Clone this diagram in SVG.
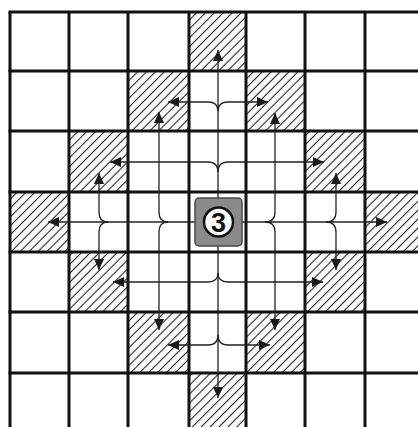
<svg xmlns="http://www.w3.org/2000/svg" width="418" height="427" viewBox="0 0 418 427">
<defs>
<pattern id="hatch" patternUnits="userSpaceOnUse" width="6.3" height="6.3" patternTransform="rotate(45)">
<line x1="3.15" y1="-1" x2="3.15" y2="8" stroke="#222" stroke-width="1.1"/>
</pattern>
<marker id="ah" markerUnits="userSpaceOnUse" markerWidth="13" markerHeight="12" refX="11" refY="5.5" orient="auto">
<path d="M0,0.5 L11,5.5 L0,10.5 Z" fill="#1a1a1a"/>
</marker>
</defs>
<style>
.hc{fill:url(#hatch);stroke:none}
.grid line{stroke:#111;stroke-width:3}
.cn path{fill:none;stroke:#222;stroke-width:1.3;marker-end:url(#ah)}
</style>
<rect x="0" y="0" width="418" height="427" fill="#fff"/>
<g id="hatched-cells">
<g id="cell-3-0"><rect class="hc" x="189" y="12" width="57" height="59"/></g>
<g id="cell-2-1"><rect class="hc" x="128" y="71" width="61" height="60"/></g>
<g id="cell-4-1"><rect class="hc" x="246" y="71" width="59" height="60"/></g>
<g id="cell-1-2"><rect class="hc" x="69" y="131" width="59" height="61"/></g>
<g id="cell-5-2"><rect class="hc" x="305" y="131" width="60" height="61"/></g>
<g id="cell-0-3"><rect class="hc" x="10" y="192" width="59" height="60"/></g>
<g id="cell-6-3"><rect class="hc" x="365" y="192" width="53" height="60"/></g>
<g id="cell-1-4"><rect class="hc" x="69" y="252" width="59" height="60"/></g>
<g id="cell-5-4"><rect class="hc" x="305" y="252" width="60" height="60"/></g>
<g id="cell-2-5"><rect class="hc" x="128" y="312" width="61" height="61"/></g>
<g id="cell-4-5"><rect class="hc" x="246" y="312" width="59" height="61"/></g>
<g id="cell-3-6"><rect class="hc" x="189" y="373" width="57" height="54"/></g>
</g>
<g id="grid" class="grid">
<line x1="10" y1="12" x2="10" y2="427"/>
<line x1="69" y1="12" x2="69" y2="427"/>
<line x1="128" y1="12" x2="128" y2="427"/>
<line x1="189" y1="12" x2="189" y2="427"/>
<line x1="246" y1="12" x2="246" y2="427"/>
<line x1="305" y1="12" x2="305" y2="427"/>
<line x1="365" y1="12" x2="365" y2="427"/>
<line x1="8.5" y1="12" x2="418" y2="12"/>
<line x1="8.5" y1="71" x2="418" y2="71"/>
<line x1="8.5" y1="131" x2="418" y2="131"/>
<line x1="8.5" y1="192" x2="418" y2="192"/>
<line x1="8.5" y1="252" x2="418" y2="252"/>
<line x1="8.5" y1="312" x2="418" y2="312"/>
<line x1="8.5" y1="373" x2="418" y2="373"/>
</g>
<g id="connectors" class="cn">
<path d="M218 222 V50"/>
<path d="M218 222 V398"/>
<path d="M218 222 H48"/>
<path d="M218 222 H387"/>
<path d="M218 111 Q218 102 208 102 H168"/>
<path d="M218 111 Q218 102 228 102 H268"/>
<path d="M218 172 Q218 162 208 162 H110"/>
<path d="M218 172 Q218 162 228 162 H324"/>
<path d="M218 273 Q218 282 208 282 H113"/>
<path d="M218 273 Q218 282 228 282 H323"/>
<path d="M218 335 Q218 345 208 345 H168"/>
<path d="M218 335 Q218 345 228 345 H270"/>
<path d="M168 222 Q159 222 159 212 V112"/>
<path d="M168 222 Q159 222 159 232 V330"/>
<path d="M108 222 Q99 222 99 212 V173"/>
<path d="M108 222 Q99 222 99 232 V270"/>
<path d="M265 222 Q275 222 275 212 V113"/>
<path d="M265 222 Q275 222 275 232 V330"/>
<path d="M326 222 Q336 222 336 212 V173"/>
<path d="M326 222 Q336 222 336 232 V270"/>
</g>
<g id="node-3">
<rect x="195" y="198" width="47" height="48" rx="4" fill="#8a8a8a" stroke="#4a4a4a" stroke-width="1.5"/>
<circle cx="218.5" cy="222" r="14.5" fill="#fff" stroke="#111" stroke-width="2.5"/>
<text x="218.5" y="231.5" text-anchor="middle" font-family="Liberation Sans, Arial, sans-serif" font-weight="bold" font-size="27" fill="#111">3</text>
</g>
</svg>
